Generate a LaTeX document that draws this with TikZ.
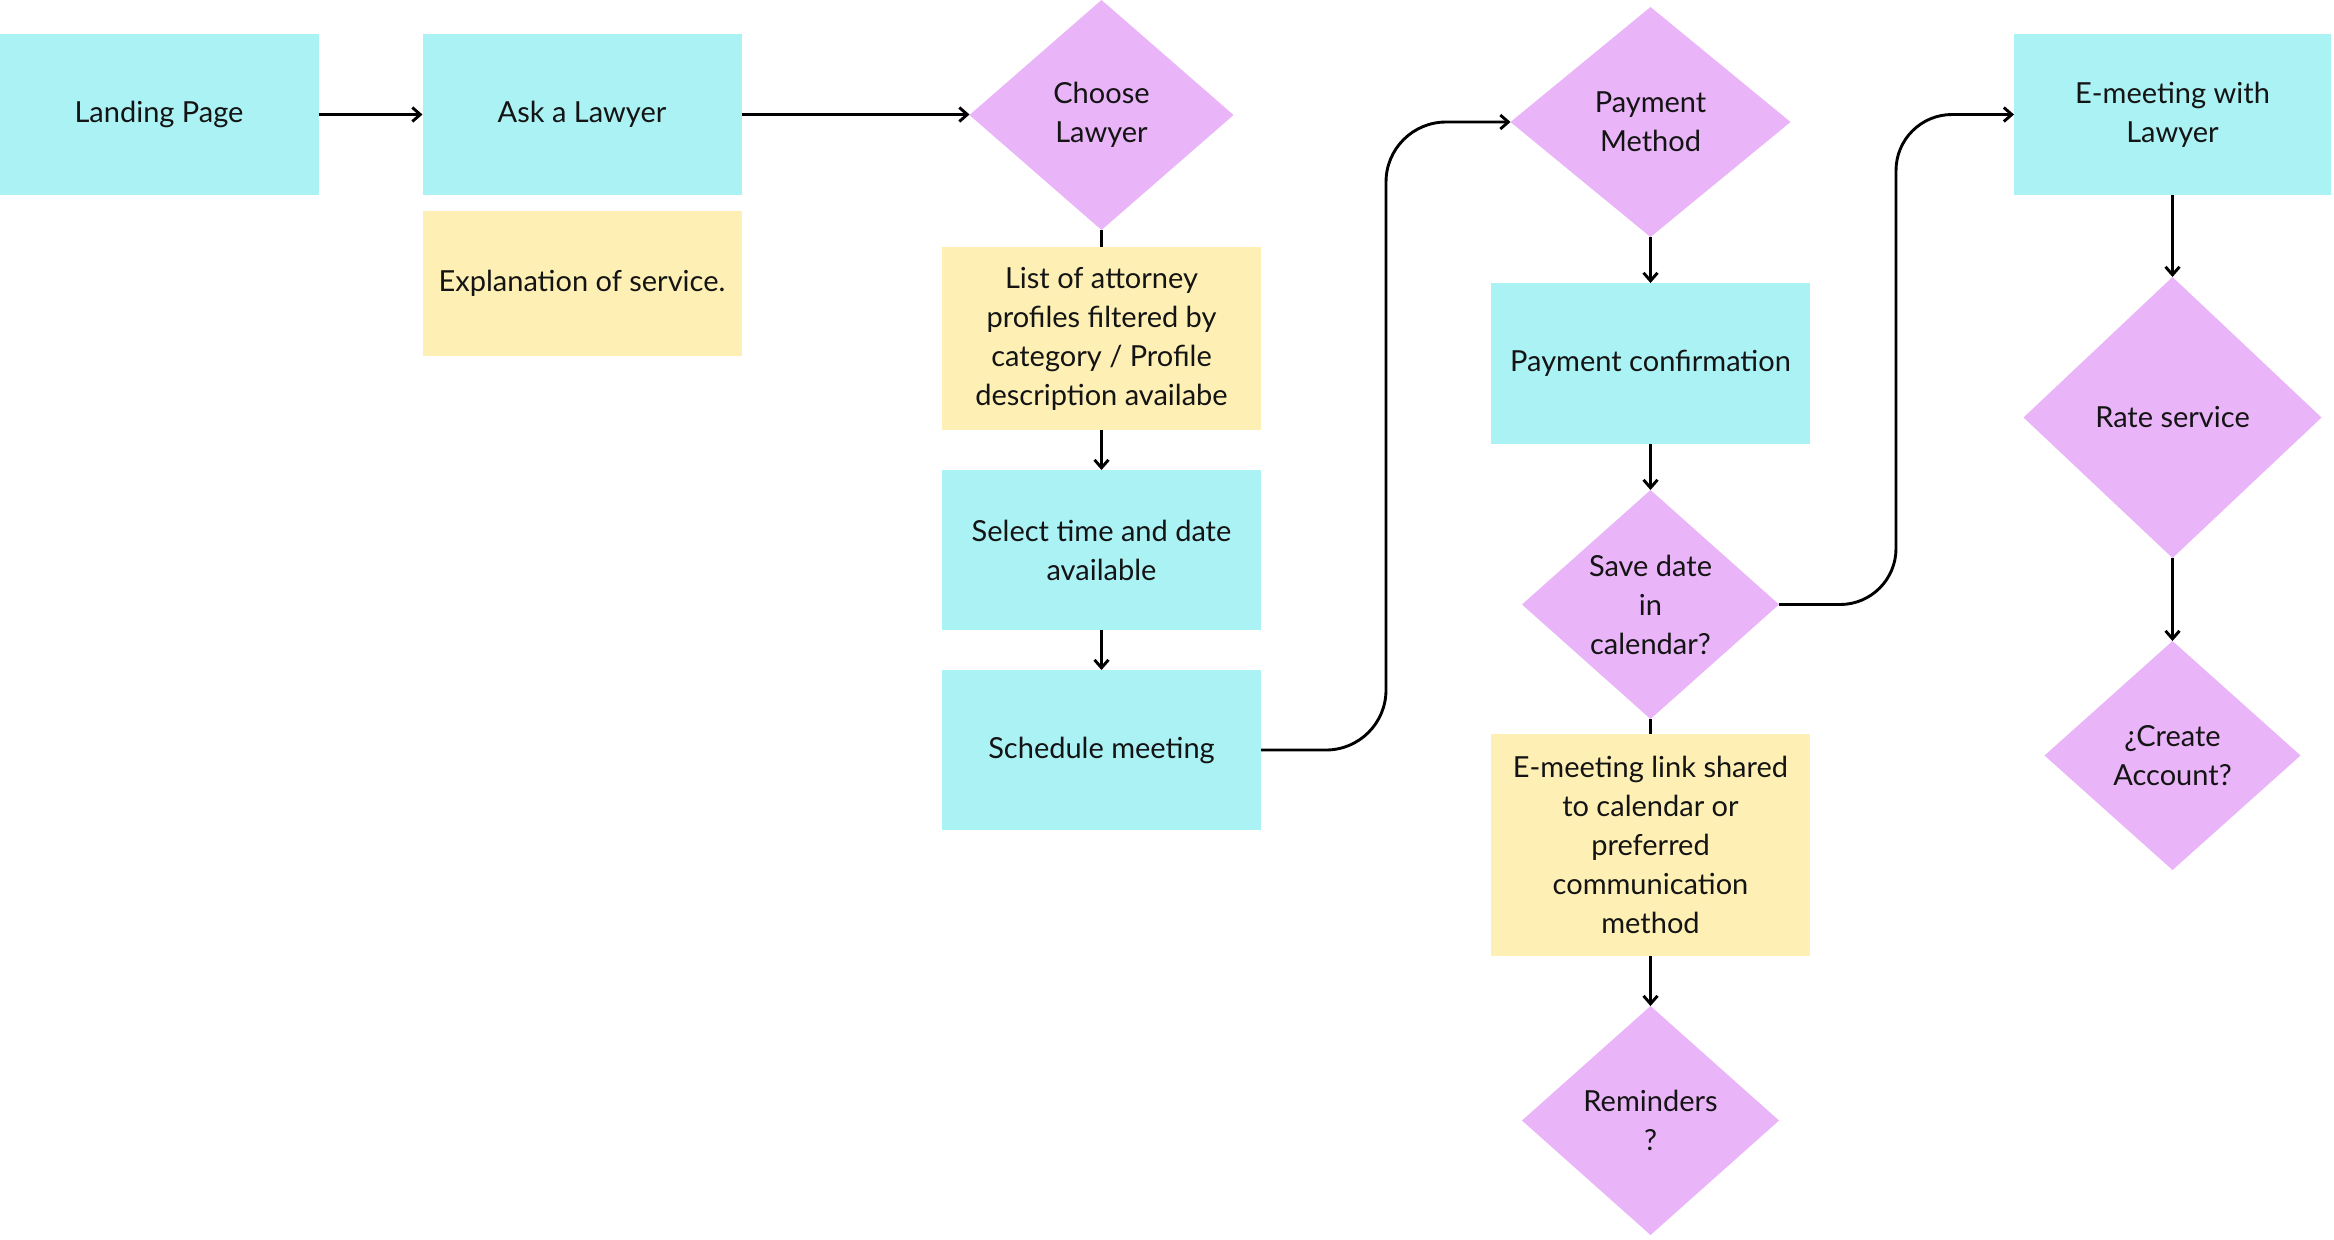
\documentclass[tikz,border=0pt]{standalone}
\usepackage{fontspec}
\setmainfont{Lato}
\usepackage{tikz}
\usetikzlibrary{positioning,arrows.meta,shapes.geometric}
\definecolor{boxcyan}{HTML}{ABF2F5}
\definecolor{boxyellow}{HTML}{FEF0B4}
\definecolor{boxviolet}{HTML}{E9B4F8}
\definecolor{inkdark}{HTML}{141414}

\begin{document}
\begin{tikzpicture}[
      x=0.5pt, y=-0.5pt,
      every node/.style={font=\fontsize{14.5}{19.5}\selectfont, text=inkdark, align=center, outer sep=0pt},
      stepbox/.style={fill=boxcyan, minimum width=159.5pt, minimum height=80.5pt, inner sep=0pt},
      notebox/.style={fill=boxyellow, minimum width=159.5pt, inner sep=0pt},
      choice/.style={diamond, fill=boxviolet, inner sep=0pt},
      flow/.style={line width=1.45pt, -{Straight Barb[length=4pt,width=7pt]}},
      link/.style={line width=1.45pt}
    ]
      \useasboundingbox (0,0) rectangle (2334,1239);

      \node[stepbox] (landing) at (159,114.5) {Landing Page};
      \node[stepbox, right=52pt of landing] (ask) {Ask a Lawyer};
      \node[notebox, minimum height=72.5pt, below=8pt of ask] (expl) {Explanation of service.};

      \node[choice, minimum width=132pt, minimum height=115pt] (choose) at (1101.5,115) {Choose\\Lawyer};
      \node[notebox, minimum height=91.5pt, below=8.5pt of choose] (list) {
        List of attorney\\profiles filtered by\\category / Profile\\description availabe
      };
      \node[stepbox, minimum height=80pt, below=20pt of list] (select) {
        Select time and date\\available
      };
      \node[stepbox, minimum height=80pt, below=20pt of select] (sched) {Schedule meeting};

      \node[choice, minimum width=140pt, minimum height=115pt] (paymeth) at (1650.5,122) {Payment\\Method};
      \node[stepbox, below=23pt of paymeth] (payconf) {Payment confirmation};
      \node[choice, minimum width=128.5pt, minimum height=114.5pt, below=23pt of payconf] (savedate) {
        Save date\\in\\calendar?
      };
      \node[notebox, minimum height=111pt, below=7.5pt of savedate] (linkbox) {
        E-meeting link shared\\to calendar or\\preferred\\communication\\method
      };
      \node[choice, minimum width=128.5pt, minimum height=114.5pt, below=25pt of linkbox] (remind) {Reminders\\?};

      \node[stepbox, minimum width=158.5pt] (emeet) at (2172.5,114.5) {E-meeting with\\Lawyer};
      \node[choice, minimum width=149pt, minimum height=140.5pt, below=41pt of emeet] (rate) {Rate service};
      \node[choice, minimum width=128pt, minimum height=114.5pt, below=41.5pt of rate] (create) {¿Create\\Account?};

      \draw[flow] (landing) -- (ask);
      \draw[flow] (ask.east) -- (ask.east -| choose.west);
      \draw[link] (choose) -- (list);
      \draw[flow] (list) -- (select);
      \draw[flow] (select) -- (sched);
      \draw[flow, rounded corners=30pt] (sched.east) -- ++(125,0) |- (paymeth.west);
      \draw[flow] (paymeth) -- (payconf);
      \draw[flow] (payconf) -- (savedate);
      \draw[link] (savedate) -- (linkbox);
      \draw[flow] (linkbox) -- (remind);
      \draw[flow, rounded corners=28pt] (savedate.east) -- ++(117,0) |- (emeet.west);
      \draw[flow] (emeet) -- (rate);
      \draw[flow] (rate) -- (create);
    \end{tikzpicture}
\end{document}
